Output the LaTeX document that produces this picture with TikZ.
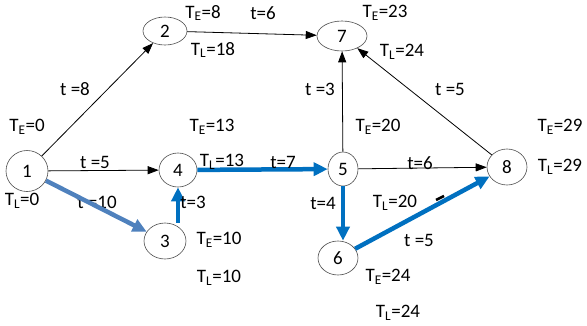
\documentclass[tikz,border=0pt]{standalone}
\usepackage{fontspec}
\setmainfont{Carlito}
\usetikzlibrary{shapes.geometric,arrows.meta}
\definecolor{cpblue}{RGB}{0,112,192}
\definecolor{stblue}{RGB}{79,129,189}
\tikzset{
  ev/.style={draw=black!70, ellipse, inner sep=0pt, line width=0.6pt, font=\fontsize{19}{21}\selectfont},
  lbl/.style={font=\fontsize{19}{21}\selectfont, inner sep=0pt},
  act/.style={-{Triangle[length=11pt,width=8pt]}, line width=0.8pt, black},
  crit/.style={-{Triangle[length=14pt,width=13pt]}, line width=4.5pt, cpblue},
  critb/.style={-{Triangle[length=14pt,width=13pt]}, line width=4.5pt, stblue},
}
\begin{document}
\begin{tikzpicture}[x=1pt,y=-1pt]
\useasboundingbox (0,0) rectangle (587,325);
\node[ev, minimum width=42pt, minimum height=41pt] (n1) at (27,171) {1};
\node[ev, minimum width=44pt, minimum height=28pt] (n2) at (165,31) {2};
\node[ev, minimum width=50pt, minimum height=30pt] (n7) at (342,36) {7};
\node[ev, minimum width=38pt, minimum height=34pt] (n4) at (178,170) {4};
\node[ev, minimum width=30pt, minimum height=34pt] (n5) at (343,169) {5};
\node[ev, minimum width=40pt, minimum height=36pt] (n8) at (507,167) {8};
\node[ev, minimum width=40pt, minimum height=34pt] (n6) at (338,258) {6};
\node[ev, minimum width=42pt, minimum height=36pt] (n3) at (165,241) {3};

\draw[act] (n1) -- (n2);
\draw[act] (n2) -- (n7);
\draw[act] (n1) -- (n4);
\draw[act] (n5) -- (n7);
\draw[act] (n8) -- (n7);
\draw[act] (n5) -- (n8);
\draw[crit] (n4.south |- n3.north) -- (n4.south);
\draw[crit] (n4) -- (n5);
\draw[crit] (n5.south) -- (n5.south |- n6.north);
\draw[crit] (n6) -- (n8);
\coordinate (m1) at (436,200);
\coordinate (m2) at (444,196);
\draw[line width=2.5pt, black] (m1) -- (m2);

\node[lbl] (te1) at (27,127) {T\textsubscript{E}=0};
\node[lbl] (tl1) at (22,201) {T\textsubscript{L}=0};
\node[lbl] (a12) at (75,89) {t =8};
\node[lbl] (te2) at (203,13) {T\textsubscript{E}=8};
\node[lbl] (tl2) at (213,50) {T\textsubscript{L}=18};
\node[lbl] (a27) at (263,13) {t=6};
\node[lbl] (te7) at (385,13) {T\textsubscript{E}=23};
\node[lbl] (tl7) at (402,52) {T\textsubscript{L}=24};
\node[lbl] (a57) at (320,89) {t =3};
\node[lbl] (a87) at (450,89) {t =5};
\node[lbl] (te4) at (212,127) {T\textsubscript{E}=13};
\node[lbl] (tl4) at (222,162) {T\textsubscript{L}=13};
\node[lbl] (te5) at (378,127) {T\textsubscript{E}=20};
\node[lbl] (tl5) at (395,203) {T\textsubscript{L}=20};
\node[lbl] (te8) at (560,127) {T\textsubscript{E}=29};
\node[lbl] (tl8) at (560,167) {T\textsubscript{L}=29};
\node[lbl] (a14) at (95,162) {t =5};
\node[lbl] (a45) at (283,162) {t=7};
\node[lbl] (a58) at (420,163) {t=6};
\node[lbl] (a13) at (97,202) {t =10};
\draw[critb] (n1) -- (n3);
\node[lbl] (a34) at (193,202) {t=3};
\node[lbl] (a56) at (323,203) {t=4};
\node[lbl] (a68) at (419,240) {t =5};
\node[lbl] (te3) at (219,240) {T\textsubscript{E}=10};
\node[lbl] (tl3) at (219,278) {T\textsubscript{L}=10};
\node[lbl] (te6) at (388,277) {T\textsubscript{E}=24};
\node[lbl] (tl6) at (398,313) {T\textsubscript{L}=24};
\end{tikzpicture}
\end{document}
